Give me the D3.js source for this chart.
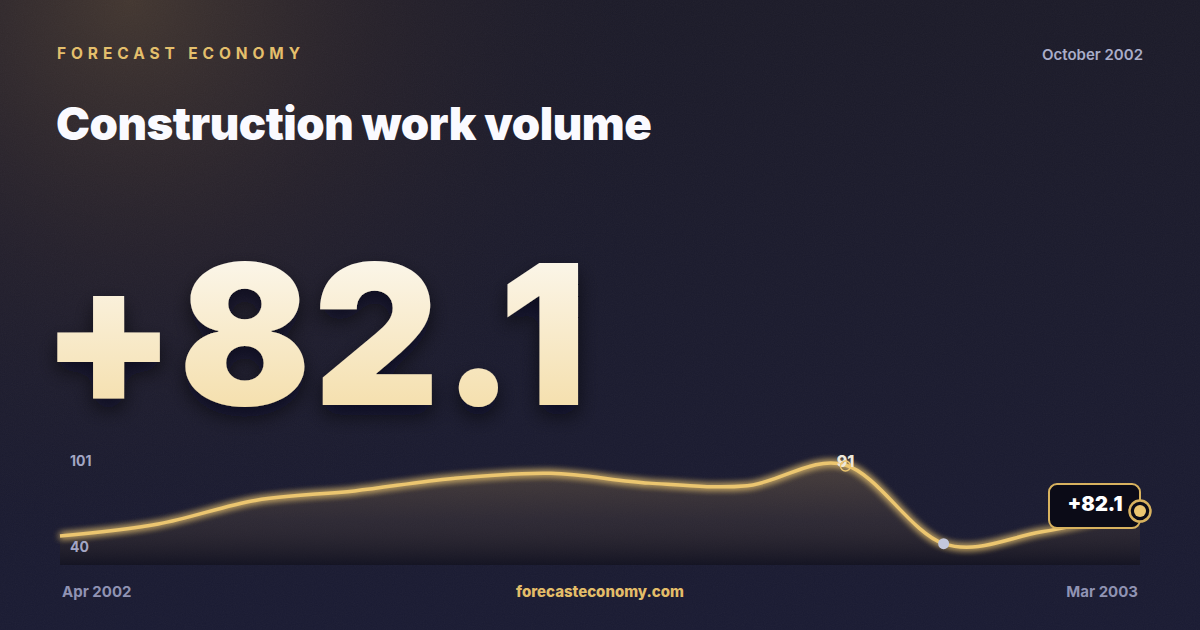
<!DOCTYPE html>
<html>
<head>
<meta charset="utf-8">
<script src="https://cdn.jsdelivr.net/npm/d3@7"></script>
<style>
  html, body { margin: 0; padding: 0; background: #191a2e; }
  svg { display: block; font-family: Inter, "Noto Sans", sans-serif; }
</style>
</head>
<body>
<script>
// data
var months = ['Apr 2002','May 2002','Jun 2002','Jul 2002','Aug 2002','Sep 2002',
              'Oct 2002','Nov 2002','Dec 2002','Jan 2003','Feb 2003','Mar 2003'];
var values = [77.3, 79.6, 84.2, 86.0, 88.4, 89.4, 87.5, 87.0, 91.0, 75.8, 78.1, 82.1];
var yTickLabels = ['101', '40'];
var brand = 'FORECAST ECONOMY';
var title = 'Construction work volume';
var issueDate = 'October 2002';
var site = 'forecasteconomy.com';

var W = 1200, H = 630;
var chartLeft = 60, chartRight = 1140, chartTop = 455, chartBottom = 565;
var gold = '#ecc670';

var svg = d3.select('body').append('svg')
  .attr('width', W)
  .attr('height', H);

var defs = svg.append('defs');

var bg = defs.append('linearGradient').attr('id', 'bg')
  .attr('x1', 0).attr('y1', 0).attr('x2', 0).attr('y2', 1);
bg.append('stop').attr('offset', '0%').attr('stop-color', '#1c1b29');
bg.append('stop').attr('offset', '100%').attr('stop-color', '#1a1b33');

var warm = defs.append('radialGradient').attr('id', 'warm')
  .attr('gradientUnits', 'userSpaceOnUse')
  .attr('cx', 130).attr('cy', 0).attr('r', 560);
warm.append('stop').attr('offset', '0%').attr('stop-color', '#4a3c32').attr('stop-opacity', 0.85);
warm.append('stop').attr('offset', '45%').attr('stop-color', '#33292c').attr('stop-opacity', 0.45);
warm.append('stop').attr('offset', '100%').attr('stop-color', '#1c1b2c').attr('stop-opacity', 0);

var numGrad = defs.append('linearGradient').attr('id', 'numGrad')
  .attr('x1', 0).attr('y1', 0).attr('x2', 0).attr('y2', 1);
numGrad.append('stop').attr('offset', '0%').attr('stop-color', '#fdfcfa');
numGrad.append('stop').attr('offset', '100%').attr('stop-color', '#f3d99c');

var areaGrad = defs.append('linearGradient').attr('id', 'areaGrad')
  .attr('gradientUnits', 'userSpaceOnUse')
  .attr('x1', 0).attr('y1', chartTop).attr('x2', 0).attr('y2', chartBottom);
areaGrad.append('stop').attr('offset', '0%').attr('stop-color', '#b8955a').attr('stop-opacity', 0.32);
areaGrad.append('stop').attr('offset', '60%').attr('stop-color', '#5a4a3c').attr('stop-opacity', 0.3);
areaGrad.append('stop').attr('offset', '100%').attr('stop-color', '#0e0d16').attr('stop-opacity', 0.55);

var glow = defs.append('filter').attr('id', 'glow')
  .attr('x', '-10%').attr('y', '-50%').attr('width', '120%').attr('height', '200%');
glow.append('feGaussianBlur').attr('in', 'SourceGraphic').attr('stdDeviation', 3.5).attr('result', 'b');
var gm = glow.append('feMerge');
gm.append('feMergeNode').attr('in', 'b');
gm.append('feMergeNode').attr('in', 'b');
gm.append('feMergeNode').attr('in', 'SourceGraphic');

var shadow = defs.append('filter').attr('id', 'shadow')
  .attr('x', '-10%').attr('y', '-10%').attr('width', '120%').attr('height', '130%');
shadow.append('feDropShadow').attr('dx', 0).attr('dy', 10).attr('stdDeviation', 10)
  .attr('flood-color', '#05050c').attr('flood-opacity', 0.6);

var grain = defs.append('filter').attr('id', 'grain');
grain.append('feTurbulence').attr('type', 'fractalNoise').attr('baseFrequency', 0.9)
  .attr('numOctaves', 2).attr('seed', 3);
grain.append('feColorMatrix').attr('type', 'saturate').attr('values', 0);

// background
svg.append('rect').attr('width', W).attr('height', H).attr('fill', 'url(#bg)');
svg.append('rect').attr('width', W).attr('height', H).attr('fill', 'url(#warm)');
svg.append('rect').attr('width', W).attr('height', H)
  .attr('filter', 'url(#grain)').attr('opacity', 0.04);

// header
svg.append('text')
  .attr('x', 57).attr('y', 59)
  .attr('fill', '#e4bf6c')
  .attr('font-size', 15.5).attr('font-weight', 700)
  .attr('letter-spacing', 4.9)
  .text(brand);

svg.append('text')
  .attr('x', 1143).attr('y', 60)
  .attr('text-anchor', 'end')
  .attr('fill', '#aaadc8')
  .attr('font-size', 15).attr('font-weight', 600)
  .text(issueDate);

svg.append('text')
  .attr('x', 56).attr('y', 140)
  .attr('fill', '#fafaff')
  .attr('font-size', 45.5).attr('font-weight', 900)
  .attr('letter-spacing', -0.5)
  .text(title);

// big number
var last = values[values.length - 1];
svg.append('text')
  .attr('x', 41).attr('y', 405)
  .attr('fill', 'url(#numGrad)')
  .attr('font-size', 195).attr('font-weight', 900)
  .attr('letter-spacing', 2.5)
  .attr('filter', 'url(#shadow)')
  .text('+' + d3.format('.1f')(last));

// chart
var x = d3.scalePoint().domain(months).range([chartLeft, chartRight]);
var y = d3.scaleLinear().domain(d3.extent(values)).range([chartBottom - 21.3, chartTop + 10]);

var pts = values.map(function(v, i) { return {m: months[i], v: v}; });
var curve = d3.curveCatmullRom.alpha(0);

var area = d3.area()
  .x(function(d) { return x(d.m); })
  .y0(chartBottom)
  .y1(function(d) { return y(d.v); })
  .curve(curve);

var line = d3.line()
  .x(function(d) { return x(d.m); })
  .y(function(d) { return y(d.v); })
  .curve(curve);

svg.append('path').datum(pts)
  .attr('d', area)
  .attr('fill', 'url(#areaGrad)');

svg.append('path').datum(pts)
  .attr('d', line)
  .attr('fill', 'none')
  .attr('stroke', gold)
  .attr('stroke-width', 3.5)
  .attr('stroke-linejoin', 'round')
  .attr('filter', 'url(#glow)');

// y labels
svg.selectAll('.ylab').data(yTickLabels)
  .enter().append('text')
  .attr('class', 'ylab')
  .attr('x', 70)
  .attr('y', function(d, i) { return i === 0 ? chartTop + 11 : chartBottom - 13; })
  .attr('fill', '#a3a6c4')
  .attr('font-size', 14).attr('font-weight', 700)
  .text(function(d) { return d; });

// max marker
var maxI = d3.maxIndex(values), minI = d3.minIndex(values);
svg.append('text')
  .attr('x', x(months[maxI])).attr('y', y(values[maxI]) + 2)
  .attr('text-anchor', 'middle')
  .attr('fill', '#ede8dc')
  .attr('font-size', 16).attr('font-weight', 800)
  .text(d3.format('d')(values[maxI]));
svg.append('circle')
  .attr('cx', x(months[maxI])).attr('cy', y(values[maxI]) + 1)
  .attr('r', 5)
  .attr('fill', 'none')
  .attr('stroke', gold).attr('stroke-width', 1.5);

// min marker
svg.append('circle')
  .attr('cx', x(months[minI])).attr('cy', y(values[minI]))
  .attr('r', 5.5)
  .attr('fill', '#c3c7dd');

// end pill + marker
var ex = x(months[months.length - 1]), ey = y(last);
svg.append('rect')
  .attr('x', ex - 91).attr('y', ey - 27)
  .attr('width', 91).attr('height', 44)
  .attr('rx', 8)
  .attr('fill', '#0b0b17')
  .attr('stroke', '#d8b25f').attr('stroke-width', 2);
svg.append('text')
  .attr('x', ex - 45).attr('y', ey)
  .attr('text-anchor', 'middle')
  .attr('fill', '#ffffff')
  .attr('font-size', 20).attr('font-weight', 900)
  .text('+' + d3.format('.1f')(last));
svg.append('circle')
  .attr('cx', ex).attr('cy', ey).attr('r', 10.5)
  .attr('fill', '#0b0b17')
  .attr('stroke', '#d8b25f').attr('stroke-width', 2.5);
svg.append('circle')
  .attr('cx', ex).attr('cy', ey).attr('r', 6)
  .attr('fill', gold);

// footer
svg.append('text')
  .attr('x', 62).attr('y', 597)
  .attr('fill', '#9093b3')
  .attr('font-size', 15).attr('font-weight', 700)
  .text(months[0]);
svg.append('text')
  .attr('x', 600).attr('y', 597)
  .attr('text-anchor', 'middle')
  .attr('fill', '#e3bd69')
  .attr('font-size', 15).attr('font-weight', 800)
  .text(site);
svg.append('text')
  .attr('x', 1138).attr('y', 597)
  .attr('text-anchor', 'end')
  .attr('fill', '#9093b3')
  .attr('font-size', 15).attr('font-weight', 700)
  .text(months[months.length - 1]);
</script>
</body>
</html>
